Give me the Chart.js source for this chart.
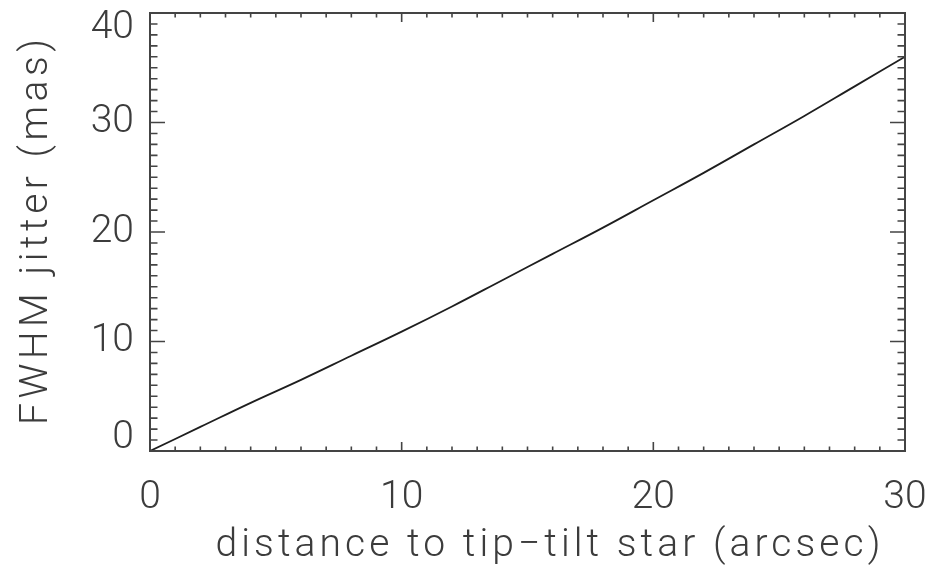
<!DOCTYPE html>
<html>
<head>
<meta charset="utf-8">
<script src="https://cdn.jsdelivr.net/npm/chart.js@4.4.1/dist/chart.umd.min.js"></script>
<style>
  html, body { margin: 0; padding: 0; background: #fff; }
  #wrap { width: 931px; height: 572px; }
</style>
</head>
<body>
<div id="wrap"><canvas id="jitterChart"></canvas></div>
<script>
// data
const distance = [0, 2, 4, 6, 8, 10, 12, 14, 16, 18, 20, 22, 24, 26, 28, 30];
const jitter = [0, 2.2, 4.4, 6.5, 8.7, 10.9, 13.2, 15.6, 18.0, 20.4, 22.9, 25.4, 28.0, 30.6, 33.3, 36.0];
const xTickValues = [0, 10, 20, 30];
const yTickValues = [0, 10, 20, 30, 40];
const xTitle = "distance to tip\u2212tilt star (arcsec)";
const yTitle = "FWHM jitter (mas)";

const FONT = "300 39px Roboto, 'DejaVu Sans', sans-serif";
const INK = "#3c3c3c";

// fill text spread out to a given width (the original font is wide)
function spreadText(ctx, text, cx, cy, width) {
    ctx.letterSpacing = "0px";
    const w = ctx.measureText(text).width;
    const gap = (width - w) / (text.length - 1);
    ctx.letterSpacing = gap + "px";
    ctx.textAlign = "center";
    ctx.fillText(text, cx + gap / 2, cy);
    ctx.letterSpacing = "0px";
}

// IDL-ish frame: box, inward ticks on all four sides, all the text
const framePlugin = {
    id: "frame",
    afterDraw(chart) {
        const ctx = chart.ctx;
        const xs = chart.scales.x, ys = chart.scales.y;
        const { left, right, top, bottom } = chart.chartArea;

        ctx.save();
        ctx.strokeStyle = "#444";
        ctx.lineWidth = 2;
        ctx.strokeRect(left, top, right - left, bottom - top);

        ctx.lineWidth = 1.6;
        ctx.beginPath();
        for (let v = 0; v <= 30; v++) {
            const px = xs.getPixelForValue(v);
            const len = v % 10 === 0 ? 9 : 4.5;
            ctx.moveTo(px, bottom); ctx.lineTo(px, bottom - len);
            ctx.moveTo(px, top); ctx.lineTo(px, top + len);
        }
        for (let v = 0; v <= 40; v++) {
            const py = ys.getPixelForValue(v);
            const len = v % 10 === 0 ? 15 : 7.5;
            ctx.moveTo(left, py); ctx.lineTo(left + len, py);
            ctx.moveTo(right, py); ctx.lineTo(right - len, py);
        }
        ctx.stroke();

        ctx.fillStyle = INK;
        ctx.font = FONT;
        ctx.textBaseline = "middle";

        // y tick labels, the end ones pushed inside the box like the original
        ctx.textAlign = "right";
        yTickValues.forEach(v => {
            let py = ys.getPixelForValue(v);
            py = Math.min(Math.max(py, top + 15), bottom - 13);
            ctx.fillText(String(v), left - 16, py);
        });

        // x tick labels
        ctx.textAlign = "center";
        xTickValues.forEach(v => {
            ctx.fillText(String(v), xs.getPixelForValue(v), bottom + 47);
        });

        // axis titles
        spreadText(ctx, xTitle, 548, 546, 665);
        ctx.translate(37, 232);
        ctx.rotate(-Math.PI / 2);
        spreadText(ctx, yTitle, 0, 0, 386);
        ctx.restore();
    }
};

const ctx = document.getElementById("jitterChart").getContext("2d");

new Chart(ctx, {
    type: "line",
    data: {
        datasets: [{
            data: distance.map((d, i) => ({ x: d, y: jitter[i] })),
            borderColor: "#1e1e1e",
            borderWidth: 1.8,
            pointRadius: 0,
            tension: 0.4,
            fill: false
        }]
    },
    options: {
        responsive: true,
        maintainAspectRatio: false,
        animation: false,
        layout: { padding: { top: 13, right: 26, left: 0, bottom: 0 } },
        plugins: {
            legend: { display: false },
            tooltip: { enabled: false }
        },
        scales: {
            x: {
                type: "linear",
                min: 0,
                max: 30,
                afterBuildTicks(scale) {
                    scale.ticks = xTickValues.map(v => ({ value: v }));
                },
                afterFit(scale) { scale.height = 121; },
                grid: { display: false, drawTicks: false },
                border: { display: false },
                ticks: { display: false }
            },
            y: {
                type: "linear",
                min: 0,
                max: 40,
                afterBuildTicks(scale) {
                    scale.ticks = yTickValues.map(v => ({ value: v }));
                },
                afterFit(scale) { scale.width = 150; },
                grid: { display: false, drawTicks: false },
                border: { display: false },
                ticks: { display: false }
            }
        }
    },
    plugins: [framePlugin]
});
</script>
</body>
</html>
